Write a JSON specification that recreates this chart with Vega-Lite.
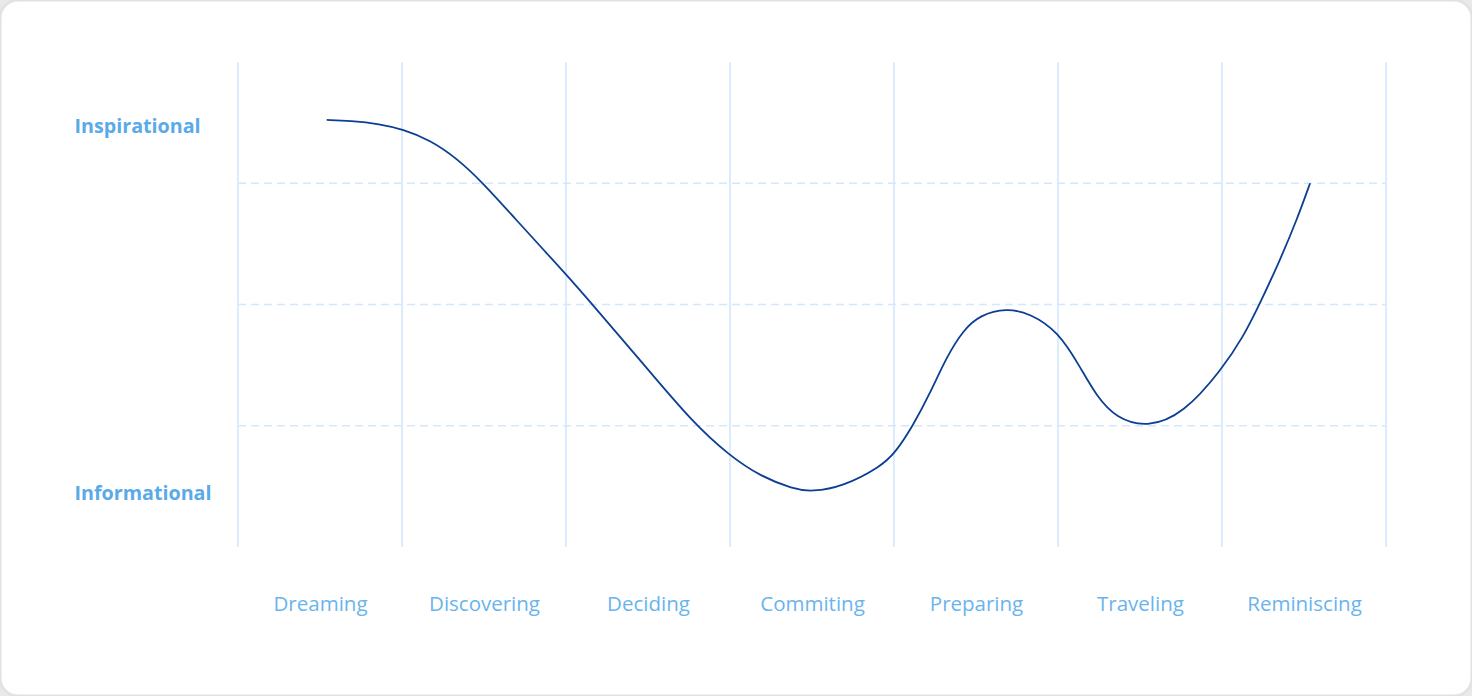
{
  "$schema": "https://vega.github.io/schema/vega-lite/v6.json",
  "width": 1472,
  "height": 696,
  "autosize": {"type": "fit", "contains": "padding"},
  "padding": 0,
  "background": "#e9e9e9",
  "config": {
    "view": {"fill": "white", "stroke": "#e2e2e2", "strokeWidth": 3, "cornerRadius": 18},
    "font": "Open Sans"
  },
  "datasets": {
    "curve": [
      {"x": 0.541, "y": 3.522},
      {"x": 0.684, "y": 3.515},
      {"x": 0.866, "y": 3.489},
      {"x": 1.004, "y": 3.445},
      {"x": 1.171, "y": 3.357},
      {"x": 1.334, "y": 3.206},
      {"x": 1.486, "y": 3.013},
      {"x": 1.679, "y": 2.724},
      {"x": 1.882, "y": 2.423},
      {"x": 2.004, "y": 2.243},
      {"x": 2.181, "y": 1.969},
      {"x": 2.451, "y": 1.542},
      {"x": 2.776, "y": 1.02},
      {"x": 3.0, "y": 0.751},
      {"x": 3.183, "y": 0.585},
      {"x": 3.386, "y": 0.478},
      {"x": 3.498, "y": 0.455},
      {"x": 3.691, "y": 0.5},
      {"x": 3.915, "y": 0.66},
      {"x": 4.006, "y": 0.773},
      {"x": 4.118, "y": 1.006},
      {"x": 4.22, "y": 1.268},
      {"x": 4.321, "y": 1.569},
      {"x": 4.423, "y": 1.79},
      {"x": 4.524, "y": 1.913},
      {"x": 4.687, "y": 1.97},
      {"x": 4.829, "y": 1.927},
      {"x": 5.002, "y": 1.776},
      {"x": 5.134, "y": 1.487},
      {"x": 5.236, "y": 1.24},
      {"x": 5.358, "y": 1.06},
      {"x": 5.541, "y": 0.985},
      {"x": 5.764, "y": 1.095},
      {"x": 6.004, "y": 1.474},
      {"x": 6.13, "y": 1.734},
      {"x": 6.232, "y": 2.01},
      {"x": 6.354, "y": 2.367},
      {"x": 6.456, "y": 2.697},
      {"x": 6.537, "y": 3.0}
    ],
    "vlines": [
      {"x": 0}, {"x": 1}, {"x": 2}, {"x": 3}, {"x": 4}, {"x": 5}, {"x": 6}, {"x": 7}
    ],
    "hlines": [{"y": 1}, {"y": 2}, {"y": 3}]
  },
  "layer": [
    {
      "data": {"name": "vlines"},
      "mark": {"type": "rule", "color": "#cfe6fd", "strokeWidth": 1.5},
      "encoding": {
        "x": {
          "field": "x", "type": "quantitative",
          "scale": {"domain": [-1.45122, 7.52439], "nice": false, "zero": false},
          "axis": {
            "orient": "bottom", "offset": -92, "values": [0.5, 1.5, 2.5, 3.5, 4.5, 5.5, 6.5],
            "labelExpr": "['Dreaming','Discovering','Deciding','Commiting','Preparing','Traveling','Reminiscing'][floor(datum.value)]",
            "domain": false, "ticks": false, "tickSize": 0, "grid": false, "labelPadding": 0,
            "labelBaseline": "middle", "labelFontSize": 20.5, "labelColor": "#69b4ed", "labelFont": "Open Sans", "labelFontWeight": "normal", "title": null
          }
        },
        "y": {
          "datum": 0, "type": "quantitative",
          "scale": {"domain": [-1.2289, 4.5113], "nice": false, "zero": false},
          "axis": {
            "orient": "left", "offset": -74, "values": [3.47, 0.44],
            "labelExpr": "datum.value > 2 ? 'Inspirational' : 'Informational'",
            "domain": false, "ticks": false, "tickSize": 0, "grid": false, "labelPadding": 0,
            "labelAlign": "left", "labelBaseline": "middle", "labelFontSize": 19.7, "labelColor": "#5aaae8", "labelFont": "Open Sans", "labelFontWeight": "bold", "title": null
          }
        },
        "y2": {"datum": 4}
      }
    },
    {
      "data": {"name": "hlines"},
      "mark": {"type": "rule", "color": "#d3e8fd", "strokeWidth": 1.5, "strokeDash": [8, 5]},
      "encoding": {
        "y": {"field": "y", "type": "quantitative"},
        "x": {"datum": 0, "type": "quantitative"},
        "x2": {"datum": 7}
      }
    },
    {
      "data": {"name": "curve"},
      "mark": {"type": "line", "interpolate": "basis", "color": "#0c3f93", "strokeWidth": 1.8},
      "encoding": {
        "x": {"field": "x", "type": "quantitative"},
        "y": {"field": "y", "type": "quantitative"}
      }
    }
  ]
}
